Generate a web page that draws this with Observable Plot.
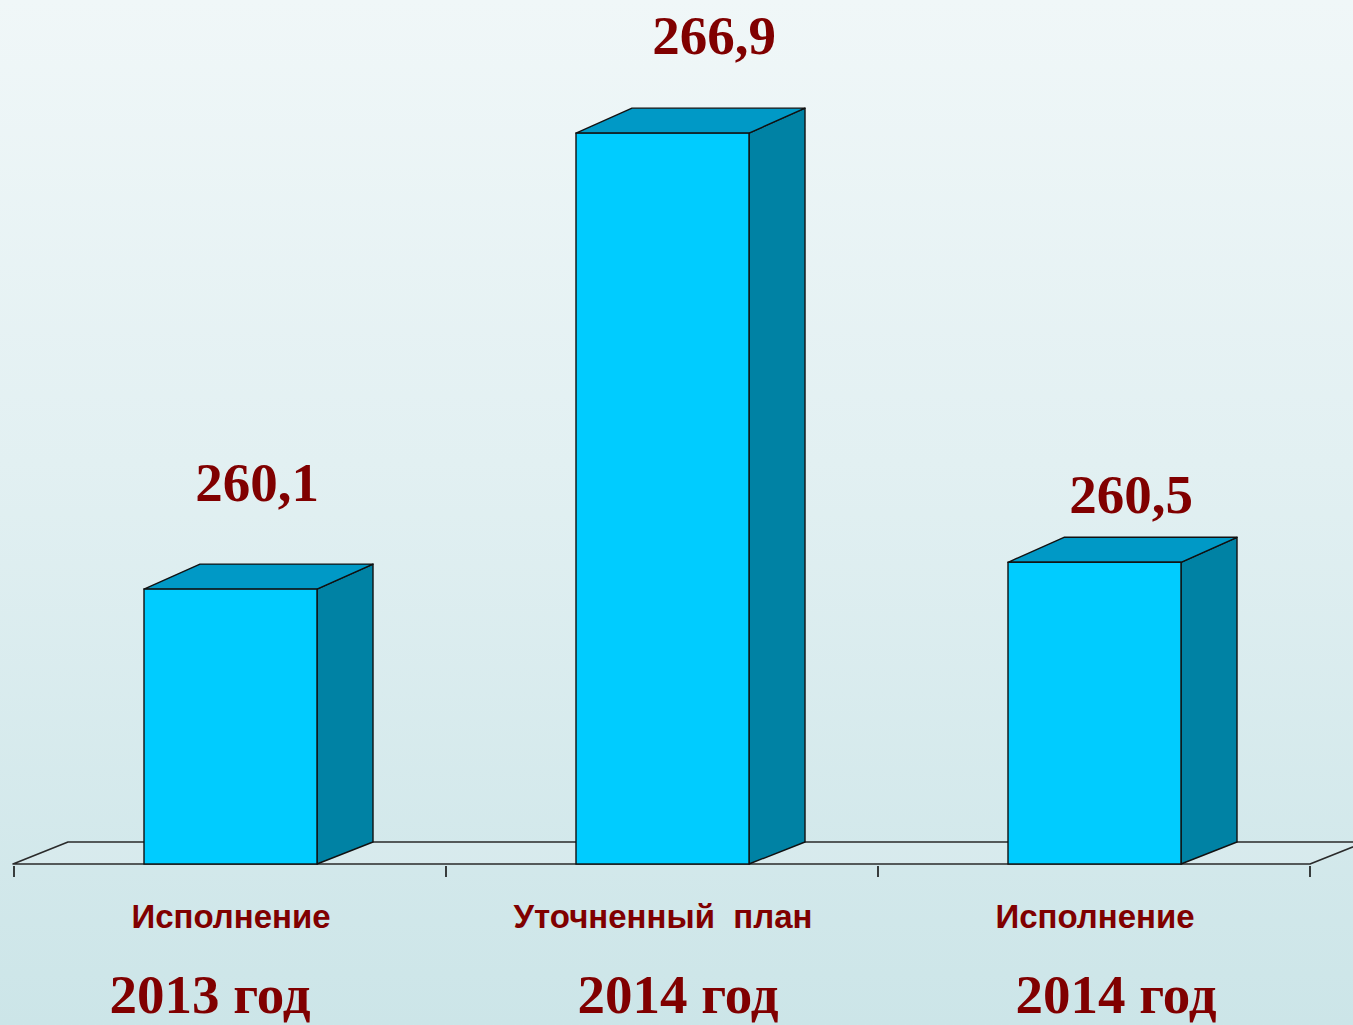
<!DOCTYPE html>
<html>
<head>
<meta charset="utf-8">
<script src="https://cdn.jsdelivr.net/npm/d3@7"></script>
<script src="https://cdn.jsdelivr.net/npm/@observablehq/plot@0.6"></script>
<style>
  html, body { margin: 0; padding: 0; }
  body {
    width: 1353px; height: 1025px; overflow: hidden;
    background: linear-gradient(to bottom, #f0f7f8 0%, #e2f0f2 45%, #cce5e8 100%);
  }
  #chart svg { display: block; }
</style>
</head>
<body>
<div id="chart"></div>
<script>
// ---- data ----
const categories = ["Исполнение", "Уточненный  план", "Исполнение"];
const years = ["2013 год", "2014 год", "2014 год"];
const values = [260.1, 266.9, 260.5];
const valueLabels = ["260,1", "266,9", "260,5"];

const keys = categories.map((c, i) => c + "|" + years[i]);
const data = keys.map((k, i) => ({key: k, category: categories[i], year: years[i], value: values[i], label: valueLabels[i], i}));

// ---- styling ----
const FRONT = "#00ccff", TOP = "#0099c6", SIDE = "#0082a4", EDGE = "#111";
const TEXT = "#800000";
const BAR_DX = 56, BAR_DY_TOP = -25, BAR_DY_BOT = -22;
const FLOOR_DX = 55, FLOOR_DY = -22;
const valueDx = [26, 51, 36];
const valueDy = [-89, -80, -50];
const yearDx = [-21, 15, 21];

// floor, ticks (drawn with the plot's scales)
function floorMark(index, scales) {
  const x = scales.x, y = scales.y;
  const r = x.range();
  const step = x.step ? x.step() : (r[1] - r[0]) / keys.length;
  const y0 = y(y.domain()[0]);
  const g = d3.create("svg:g");
  const x0 = r[0] - 1, x1 = r[1];
  const pts = [[x0, y0], [x0 + FLOOR_DX, y0 + FLOOR_DY], [x1 + FLOOR_DX, y0 + FLOOR_DY], [x1, y0]];
  g.append("path")
    .attr("d", "M" + pts.map(p => p.join(",")).join("L") + "Z")
    .attr("fill", "rgba(255,255,255,0.12)")
    .attr("stroke", "#2a2a2a").attr("stroke-width", 1.6).attr("stroke-linejoin", "round");
  for (let i = 0; i <= keys.length; i++) {
    const xt = r[0] + i * step;
    g.append("line").attr("x1", xt).attr("x2", xt).attr("y1", y0 + 2).attr("y2", y0 + 13)
      .attr("stroke", "#111").attr("stroke-width", 1.6);
  }
  return g.node();
}

// top and side faces of each 3D bar
function depthMark(index, scales) {
  const x = scales.x, y = scales.y;
  const bw = x.bandwidth ? x.bandwidth() : 172;
  const yb = y(y.domain()[0]);
  const g = d3.create("svg:g").attr("stroke", EDGE).attr("stroke-width", 1.4).attr("stroke-linejoin", "round");
  for (const d of data) {
    const xl = x(d.key), xr = xl + bw, yt = y(d.value);
    const side = [[xr, yt], [xr + BAR_DX, yt + BAR_DY_TOP], [xr + BAR_DX, yb + BAR_DY_BOT], [xr, yb]];
    const top = [[xl, yt], [xl + BAR_DX, yt + BAR_DY_TOP], [xr + BAR_DX, yt + BAR_DY_TOP], [xr, yt]];
    g.append("path").attr("d", "M" + side.map(p => p.join(",")).join("L") + "Z").attr("fill", SIDE);
    g.append("path").attr("d", "M" + top.map(p => p.join(",")).join("L") + "Z").attr("fill", TOP);
  }
  return g.node();
}

const marks = [
  floorMark,
  depthMark,
  Plot.barY(data, {x: "key", y1: 256, y2: "value", fill: FRONT, stroke: EDGE, strokeWidth: 1.4}),
  Plot.text(data, {x: "key", frameAnchor: "bottom", text: "category", lineAnchor: "bottom", dy: -98,
    fill: TEXT, fontFamily: "Liberation Sans, Arial, sans-serif", fontWeight: "bold", fontSize: 33})
];
data.forEach((d, i) => {
  marks.push(Plot.text([d], {x: "key", y: "value", text: "label", dx: valueDx[i], dy: valueDy[i], lineAnchor: "bottom",
    fill: TEXT, fontFamily: "Liberation Serif, Times New Roman, serif", fontWeight: "bold", fontSize: 55}));
  marks.push(Plot.text([d], {x: "key", frameAnchor: "bottom", text: "year", dx: yearDx[i], dy: -13, lineAnchor: "bottom",
    fill: TEXT, fontFamily: "Liberation Serif, Times New Roman, serif", fontWeight: "bold", fontSize: 55}));
});

const chart = Plot.plot({
  width: 1353,
  height: 1025,
  margin: 0,
  x: {type: "band", domain: keys, range: [14, 1310], paddingInner: 0.6, paddingOuter: 0.3, axis: null},
  y: {domain: [256, 268], range: [864, 59.4], axis: null},
  style: {background: "transparent", overflow: "visible"},
  marks
});
document.getElementById("chart").append(chart);
</script>
</body>
</html>
